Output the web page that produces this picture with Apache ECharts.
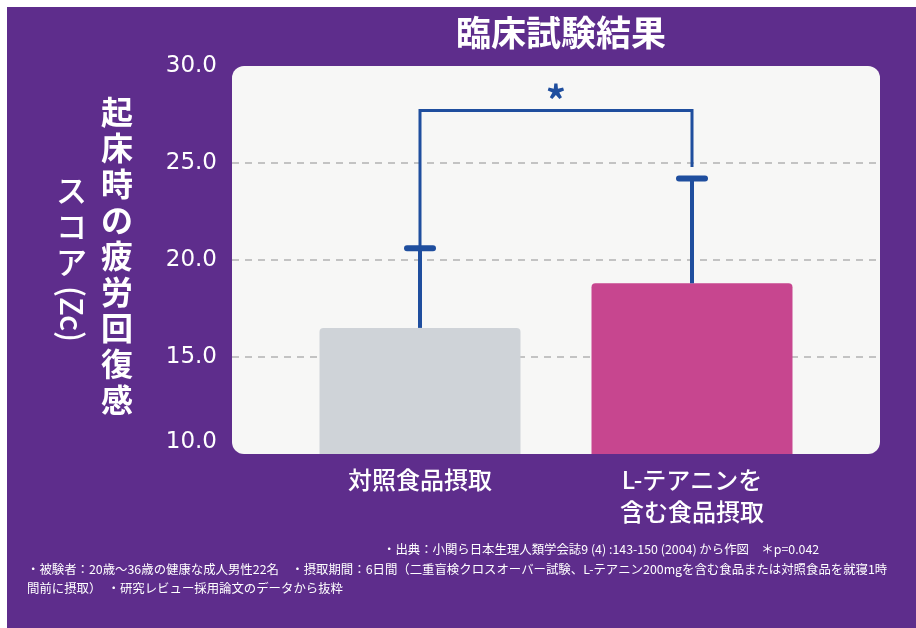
<!DOCTYPE html>
<html>
<head>
<meta charset="utf-8">
<script src="https://cdn.jsdelivr.net/npm/echarts@6/dist/echarts.min.js"></script>
<style>html,body{margin:0;padding:0;background:#fff;}#c{width:916px;height:628px;}</style>
</head>
<body>
<div id="c"></div>
<script>
const categories = ['対照食品摂取', 'L-テアニンを\n含む食品摂取'];
const means = [16.5, 18.8];
const upperErr = [20.6, 24.2];
const bracketTop = 27.7;
const bracketEnds = [20.6, 24.8];
const yMin = 10, yMax = 30, yStep = 5;
const titleText = '臨床試験結果';
const yNameMain = '起床時の疲労回復感';
const yNameSub = 'スコア';
const yNameUnit = '(Zc)';
const notes = [
  '・出典：小関ら日本生理人類学会誌9 (4) :143-150 (2004) から作図　＊p=0.042',
  '・被験者：20歳～36歳の健康な成人男性22名　・摂取期間：6日間（二重盲検クロスオーバー試験、L-テアニン200mgを含む食品または対照食品を就寝1時',
  '間前に摂取）　・研究レビュー採用論文のデータから抜粋'
];

const PURPLE = '#5e2d8c';
const BLUE = '#1f4e9e';
const FONT = '"Noto Sans CJK JP", "Noto Sans", sans-serif';
const barColors = ['#cfd3d8', '#c7468f'];

const chart = echarts.init(document.getElementById('c'));
const option = {
  backgroundColor: PURPLE,
  textStyle: { fontFamily: FONT },
  title: {
    text: titleText, left: 556, top: 10, textAlign: 'center',
    textStyle: { color: '#fff', fontSize: 35, fontWeight: 'bold', fontFamily: FONT }
  },
  graphic: [
    { type: 'rect', z: -10, shape: { x: 0, y: 0, width: 916, height: 7 }, style: { fill: '#fff' } },
    { type: 'rect', z: -10, shape: { x: 0, y: 0, width: 7, height: 628 }, style: { fill: '#fff' } },
    { type: 'rect', z: -5, shape: { x: 232, y: 66, width: 648, height: 388, r: 12 }, style: { fill: '#f7f7f6' } },
    { type: 'text', left: 101, top: 94, style: { text: yNameMain.split('').join('\n'), fill: '#fff', font: 'bold 32px ' + FONT, lineHeight: 36, align: 'center' } },
    { type: 'text', left: 56, top: 172, style: { text: yNameSub.split('').join('\n'), fill: '#fff', font: '500 31px ' + FONT, lineHeight: 36, align: 'center' } },
    { type: 'text', x: 72, y: 314, rotation: -Math.PI / 2, style: { text: yNameUnit, fill: '#fff', font: '500 31px ' + FONT, align: 'center', verticalAlign: 'middle' } },
    { type: 'text', x: 383, y: 549, style: { text: notes[0], fill: '#fff', font: '12.4px ' + FONT, verticalAlign: 'middle' } },
    { type: 'text', x: 27, y: 569, style: { text: notes[1], fill: '#fff', font: '12.4px ' + FONT, verticalAlign: 'middle' } },
    { type: 'text', x: 27, y: 588, style: { text: notes[2], fill: '#fff', font: '12.4px ' + FONT, verticalAlign: 'middle' } }
  ],
  grid: [
    { left: 232, right: 36, top: 66, bottom: 174 },
    { left: 284, right: 88, top: 66, bottom: 174 }
  ],
  xAxis: [
    { gridIndex: 0, type: 'value', show: false, min: 0, max: 1 },
    {
      gridIndex: 1, type: 'category', data: categories,
      axisLine: { show: false }, axisTick: { show: false },
      axisLabel: { color: '#fff', fontSize: 24, fontWeight: 500, lineHeight: 32, margin: 10, fontFamily: FONT }
    }
  ],
  yAxis: [
    {
      gridIndex: 0, type: 'value', min: yMin, max: yMax, interval: yStep,
      axisLine: { show: false }, axisTick: { show: false },
      axisLabel: { color: '#fff', fontSize: 23, margin: 15, fontFamily: '"DejaVu Sans", sans-serif', formatter: v => v.toFixed(1), verticalAlignMinLabel: 'bottom' },
      splitLine: { show: true, showMinLine: false, showMaxLine: false, lineStyle: { color: '#b3b3b3', width: 1.5, type: [7, 6] } }
    },
    { gridIndex: 1, type: 'value', min: yMin, max: yMax, interval: yStep, show: false, splitLine: { show: false } }
  ],
  series: [
    {
      type: 'bar', xAxisIndex: 1, yAxisIndex: 1, barWidth: 201, z: 2,
      data: means.map((v, i) => ({ value: v, itemStyle: { color: barColors[i], borderRadius: [4, 4, 0, 0] } }))
    },
    {
      type: 'custom', xAxisIndex: 1, yAxisIndex: 1, z: 3,
      data: means.map((m, i) => [i, m, upperErr[i]]),
      encode: { x: 0, y: [1, 2] },
      renderItem: function (params, api) {
        const lo = api.coord([api.value(0), api.value(1)]);
        const hi = api.coord([api.value(0), api.value(2)]);
        return {
          type: 'group', children: [
            { type: 'line', shape: { x1: lo[0], y1: lo[1], x2: hi[0], y2: hi[1] }, style: { stroke: BLUE, lineWidth: 4 } },
            { type: 'line', shape: { x1: hi[0] - 13, y1: hi[1], x2: hi[0] + 13, y2: hi[1] }, style: { stroke: BLUE, lineWidth: 6, lineCap: 'round' } }
          ]
        };
      }
    },
    {
      type: 'custom', xAxisIndex: 1, yAxisIndex: 1, z: 3,
      data: [[0, 1, bracketTop, bracketEnds[0], bracketEnds[1]]],
      renderItem: function (params, api) {
        const x0 = api.value(0), x1 = api.value(1), top = api.value(2);
        const a = api.coord([x0, api.value(3)]);
        const b = api.coord([x0, top]);
        const c = api.coord([x1, top]);
        const d = api.coord([x1, api.value(4)]);
        return {
          type: 'group', children: [
            { type: 'polyline', shape: { points: [a, b, c, d] }, style: { stroke: BLUE, lineWidth: 3, fill: null } },
            { type: 'text', x: (b[0] + c[0]) / 2, y: b[1] - 10, style: { text: '*', fill: BLUE, font: 'bold 40px ' + FONT, align: 'center', verticalAlign: 'middle' } }
          ]
        };
      }
    }
  ]
};
chart.setOption(option);
</script>
</body>
</html>
